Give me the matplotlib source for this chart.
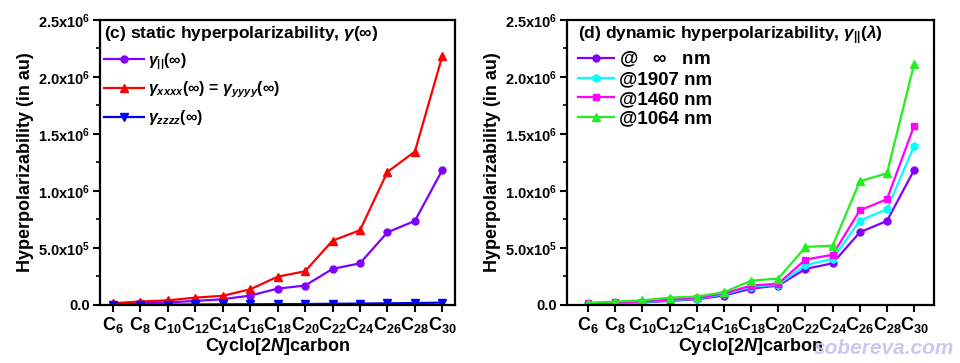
import numpy as np
import matplotlib
matplotlib.use("Agg")
from matplotlib import pyplot as plt
from matplotlib.ticker import MultipleLocator, FuncFormatter

plt.rcParams['font.family'] = ['Liberation Sans', 'DejaVu Sans']
plt.rcParams['font.weight'] = 'bold'
plt.rcParams['mathtext.fontset'] = 'custom'
plt.rcParams['mathtext.rm'] = 'Liberation Sans:bold'
plt.rcParams['mathtext.bf'] = 'Liberation Sans:bold'
plt.rcParams['mathtext.it'] = 'Liberation Sans:italic:bold'
plt.rcParams['mathtext.default'] = 'regular'

# data (values in au)
carbons = [6, 8, 10, 12, 14, 16, 18, 20, 22, 24, 26, 28, 30]
gamma_par = [0.012e6, 0.018e6, 0.022e6, 0.035e6, 0.050e6, 0.082e6, 0.143e6,
             0.170e6, 0.316e6, 0.365e6, 0.637e6, 0.737e6, 1.184e6]
gamma_xxxx = [0.015e6, 0.030e6, 0.040e6, 0.064e6, 0.080e6, 0.137e6, 0.248e6,
              0.295e6, 0.564e6, 0.655e6, 1.167e6, 1.345e6, 2.184e6]
gamma_zzzz = [0.001e6, 0.002e6, 0.003e6, 0.004e6, 0.005e6, 0.006e6, 0.007e6,
              0.008e6, 0.010e6, 0.012e6, 0.014e6, 0.017e6, 0.020e6]

gamma_1907 = [0.012e6, 0.020e6, 0.025e6, 0.040e6, 0.055e6, 0.094e6, 0.160e6,
              0.178e6, 0.350e6, 0.404e6, 0.740e6, 0.840e6, 1.395e6]
gamma_1460 = [0.014e6, 0.022e6, 0.030e6, 0.045e6, 0.060e6, 0.100e6, 0.170e6,
              0.187e6, 0.398e6, 0.440e6, 0.830e6, 0.927e6, 1.573e6]
gamma_1064 = [0.018e6, 0.030e6, 0.040e6, 0.064e6, 0.073e6, 0.111e6, 0.213e6,
              0.231e6, 0.509e6, 0.520e6, 1.085e6, 1.155e6, 2.114e6]

xlabels = [r"C$_{%d}$" % c for c in carbons]
x = np.arange(len(carbons))

PURPLE = '#8000ff'


def yfmt(v, pos):
	if abs(v) < 1:
		return "0.0"
	if v < 0:
		return ""
	exp = int(np.floor(np.log10(v)))
	return r"%.1fx10$^{%d}$" % (v / 10**exp, exp)


def style_axes(ax, xlim):
	ax.set_xlim(*xlim)
	ax.set_ylim(0, 2.5e6)
	ax.set_xticks(x)
	ax.set_xticklabels(xlabels, fontsize=13, fontweight='bold')
	ax.yaxis.set_major_locator(MultipleLocator(0.5e6))
	ax.yaxis.set_minor_locator(MultipleLocator(0.25e6))
	ax.yaxis.set_major_formatter(FuncFormatter(yfmt))
	ax.tick_params(axis='y', which='major', labelsize=10.5)
	ax.tick_params(axis='both', which='major', direction='out', length=5, width=1.5, pad=2)
	ax.tick_params(axis='y', which='minor', direction='out', length=3, width=1.2)
	for sp in ax.spines.values():
		sp.set_linewidth(1.6)
	ax.set_xlabel(r"Cyclo[2$\mathit{N}$]carbon", fontsize=13, fontweight='bold', labelpad=1)
	ax.set_ylabel("Hyperpolarizability (in au)", fontsize=13, fontweight='bold', labelpad=3)


fig = plt.figure(figsize=(9.6, 3.63), dpi=100)
ax1 = fig.add_axes([0.1042, 0.160, 0.370, 0.785])
ax2 = fig.add_axes([0.5906, 0.160, 0.382, 0.785])

# (c) static
ax1.plot(x, gamma_par, color=PURPLE, lw=1.6, marker='o', ms=5,
		 label=r"$\mathit{\gamma}_{||}(\infty)$")
ax1.plot(x, gamma_xxxx, color='#ff0000', lw=1.6, marker='^', ms=5.5,
		 label=r"$\mathit{\gamma}_{\mathit{xxxx}}(\infty)$ = $\mathit{\gamma}_{\mathit{yyyy}}(\infty)$")
ax1.plot(x, gamma_zzzz, color='#0000ff', lw=1.6, marker='v', ms=5.5,
		 label=r"$\mathit{\gamma}_{\mathit{zzzz}}(\infty)$")
style_axes(ax1, (-0.47, 12.47))
ax1.legend(loc='upper left', frameon=False, fontsize=11.5, handlelength=2.5,
		   handletextpad=0.25, labelspacing=0.5, borderpad=0.15, borderaxespad=0.1,
		   title=r"(c) static hyperpolarizability, $\mathit{\gamma}(\infty)$",
		   title_fontproperties={'size': 12.5, 'weight': 'bold'}, alignment='left')

# (d) dynamic
ax2.plot(x, gamma_par, color=PURPLE, lw=1.6, marker='o', ms=5, label=r"@   $\infty$   nm")
ax2.plot(x, gamma_1907, color='#00ffff', lw=1.6, marker='h', ms=5.5, label="@1907 nm")
ax2.plot(x, gamma_1460, color='#ff00ff', lw=1.6, marker='s', ms=4.5, label="@1460 nm")
ax2.plot(x, gamma_1064, color='#22ee22', lw=1.6, marker='^', ms=5.5, label="@1064 nm")
style_axes(ax2, (-0.78, 12.72))
ax2.legend(loc='upper left', bbox_to_anchor=(0.02, 1.0), frameon=False, fontsize=13.5,
		   handlelength=1.9, handletextpad=0.3, labelspacing=0.12, borderpad=0.1,
		   borderaxespad=0.1,
		   title=r"(d) dynamic hyperpolarizability, $\mathit{\gamma}_{||}(\mathit{\lambda})$",
		   title_fontproperties={'size': 12.5, 'weight': 'bold'}, alignment='left')

# faint watermark
fig.text(0.994, 0.04, "sobereva.com", fontsize=15, fontweight='bold', fontstyle='italic',
		 color='#c8c0f2', ha='right', va='center', alpha=0.9, zorder=10)

fig.savefig("out.png", dpi=100)
